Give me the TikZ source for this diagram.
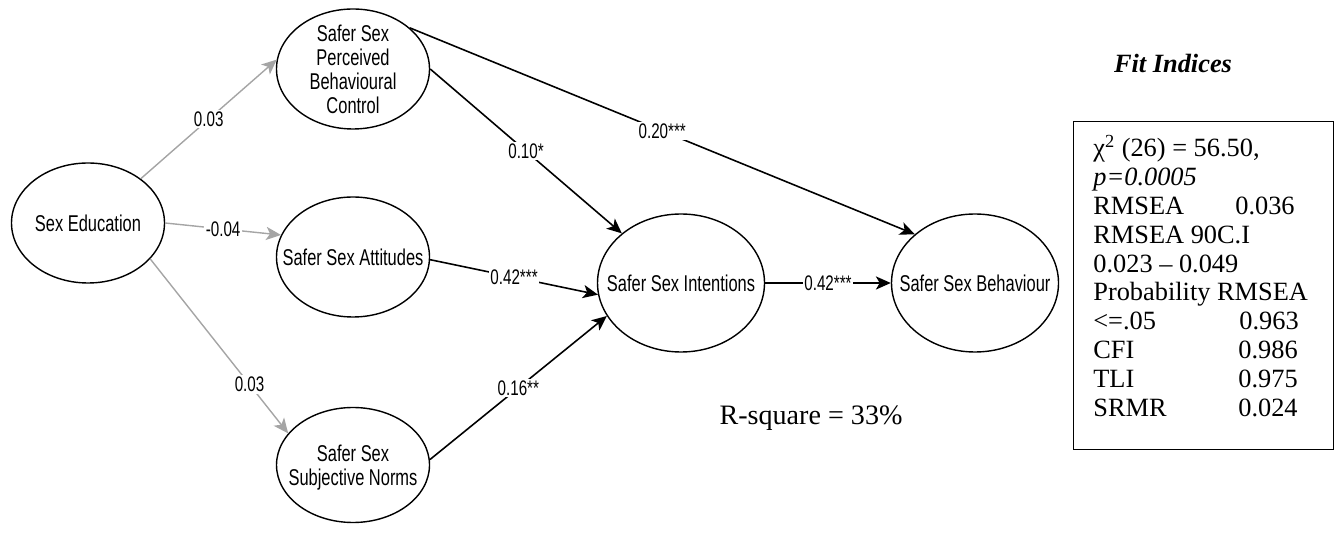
\documentclass[tikz,border=0pt]{standalone}
\usepackage{fontspec}
\setmainfont{Liberation Serif}
\newfontfamily\lblfont[FakeStretch=0.72]{Liberation Sans}
\usetikzlibrary{positioning,arrows.meta,shapes.geometric}
\definecolor{pathgray}{RGB}{165,165,165}
\newcommand{\fitrow}[2]{\makebox[2.84cm][l]{#1}#2}
% text that does not widen the ellipse round it
\newcommand{\ovallabel}[1]{\makebox[0pt]{\smash{\raisebox{-5pt}{\begin{tabular}[c]{@{}c@{}}#1\end{tabular}}}}}

\begin{document}
\begin{tikzpicture}[on grid,
    >={Stealth[length=8.5pt,width=7.5pt,inset=2.2pt]},
    latent/.style={ellipse, draw, line width=0.8pt, minimum width=3.06cm, minimum height=2.4cm,
        inner sep=0pt, font=\lblfont\fontsize{13pt}{13.6pt}\selectfont},
    wide/.style={latent, minimum width=3.34cm, minimum height=2.76cm},
    coef/.style={fill=white, inner sep=1pt, font=\lblfont\fontsize{12pt}{12pt}\selectfont},
    faint/.style={draw=pathgray, line width=0.8pt},
    firm/.style={line width=0.9pt}]

    \useasboundingbox (0,0) rectangle (26.68,11);

    \node[latent] (se) at (1.76,6.54) {\ovallabel{Sex Education}};
    \node[latent] (att) [below right=0.68cm and 5.3cm of se] {\ovallabel{Safer Sex Attitudes}};
    \node[latent] (pbc) [above=3.76cm of att] {\ovallabel{Safer Sex\\Perceived\\Behavioural\\Control}};
    \node[latent, minimum height=2.3cm] (norms) [below=4.16cm of att] {\ovallabel{Safer Sex\\Subjective Norms}};
    \node[wide] (int) [below right=0.52cm and 6.56cm of att] {\ovallabel{Safer Sex Intentions}};
    \node[wide] (beh) [right=5.88cm of int] {\ovallabel{Safer Sex Behaviour}};

    \node[font=\fontsize{16pt}{18pt}\selectfont] (rsq) [below right=2.7cm and 2.6cm of int] {R-square = 33\%};
    \node[font=\bfseries\itshape\fontsize{15pt}{18pt}\selectfont] (title) [above right=4.4cm and 3.96cm of beh] {Fit Indices};

    % fit indices box
    \node[draw, line width=0.6pt, anchor=north west, minimum width=5.2cm, minimum height=6.56cm] (fitbox) at (21.46,8.58) {};
    \node[anchor=north west, inner sep=0pt, align=left, font=\fontsize{15pt}{16.4pt}\selectfont] (fit) at (21.86,8.3)
        {χ\textsuperscript{2} (26) = 56.50,\\
         \textit{p=0.0005}\\
         \fitrow{RMSEA}{0.036}\\
         RMSEA 90C.I\\
         0.023 – 0.049\\
         Probability RMSEA\\
         \makebox[2.92cm][l]{<=.05}0.963\\
         \makebox[2.9cm][l]{CFI}0.986\\
         \makebox[2.9cm][l]{TLI}0.975\\
         \makebox[2.9cm][l]{SRMR}0.024};

    \path[->]
        (se.40) edge[faint] node[coef] {0.03} (pbc.173)
        (se.0) edge[faint] node[coef] {-0.04} (att.163)
        (se.-30) edge[faint] node[coef, pos=0.72] {0.03} (norms.154)
        (pbc.0) edge[firm] node[coef] {0.10*} (int.140)
        (pbc.36) edge[firm] node[coef] {0.20***} (beh.141)
        (att.-2) edge[firm] node[coef] {0.42***} (int.188)
        (norms.4) edge[firm] node[coef] {0.16**} (int.204)
        (int.0) edge[firm] node[coef] {0.42***} (beh.180);

\end{tikzpicture}
\end{document}
